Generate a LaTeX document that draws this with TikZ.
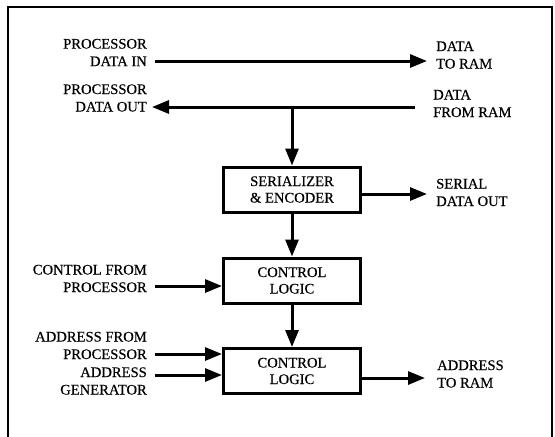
\documentclass[tikz,border=0pt]{standalone}
\usepackage{fontspec}
\setmainfont{Liberation Serif}
\newfontfamily\diagfont[FakeBold=0.35]{Liberation Serif}
\usetikzlibrary{arrows.meta}
\begin{document}
\begin{tikzpicture}[x=1pt,y=-1pt,
  lbl/.style={font=\diagfont\fontsize{14.6}{17.5}\selectfont, inner sep=0pt, align=#1},
  lbl/.default=left,
  blk/.style={draw, line width=3pt, minimum width=137pt, minimum height=45pt, inner sep=0pt,
    align=center, font=\diagfont\fontsize{14.6}{16.5}\selectfont},
  arr/.style={line width=3pt, -{Triangle[length=17pt,width=13pt]}},
  frame/.style={line width=2.2pt}]
\useasboundingbox (0,0) rectangle (555,437);
% outer frame (open at the bottom)
\coordinate (fbl) at (8,437);
\coordinate (ftl) at (8,7);
\coordinate (ftr) at (552,7);
\coordinate (fbr) at (552,437);
\draw[frame] (fbl) -- (ftl) -- (ftr) -- (fbr);

% blocks
\node[blk] (ser) at (292,189.5) {SERIALIZER\\\& ENCODER};
\node[blk] (cl1) at (292,280.5) {CONTROL\\LOGIC};
\node[blk] (cl2) at (292,371) {CONTROL\\LOGIC};

% left labels
\node[lbl=right, anchor=east] (pin) at (147,52.5) {PROCESSOR\\DATA IN};
\node[lbl=right, anchor=east] (pout) at (147,98) {PROCESSOR\\DATA OUT};
\node[lbl=right, anchor=east] (cfp) at (147,278.5) {CONTROL FROM\\PROCESSOR};
\node[lbl=right, anchor=east] (afp) at (147,345.5) {ADDRESS FROM\\PROCESSOR};
\node[lbl=right, anchor=east] (agen) at (147,381) {ADDRESS\\GENERATOR};

% right labels
\node[lbl=left, anchor=west] (dtr) at (436,55) {DATA\\TO RAM};
\node[lbl=left, anchor=west] (dfr) at (433,103.5) {DATA\\FROM RAM};
\node[lbl=left, anchor=west] (sdo) at (436,192.5) {SERIAL\\DATA OUT};
\node[lbl=left, anchor=west] (atr) at (437,374) {ADDRESS\\TO RAM};

% connector end points
\coordinate (inS) at (155,61);
\coordinate (inE) at (427,61);
\coordinate (outS) at (415,107);
\coordinate (outE) at (152,107);
\coordinate (tap) at (292,107);
\coordinate (serE) at (427,194);
\coordinate (cS) at (155,286);
\coordinate (a1S) at (155,354);
\coordinate (a2S) at (155,375);
\coordinate (atrE) at (425,378);

% connectors
\draw[arr] (inS) -- (inE);
\draw[arr] (outS) -- (outE);
\draw[arr] (tap) -- (ser.north);
\draw[arr] (ser.east |- serE) -- (serE);
\draw[arr] (ser.south) -- (cl1.north);
\draw[arr] (cS) -- (cS -| cl1.west);
\draw[arr] (cl1.south) -- (cl2.north);
\draw[arr] (a1S) -- (a1S -| cl2.west);
\draw[arr] (a2S) -- (a2S -| cl2.west);
\draw[arr] (cl2.east |- atrE) -- (atrE);
\end{tikzpicture}
\end{document}
